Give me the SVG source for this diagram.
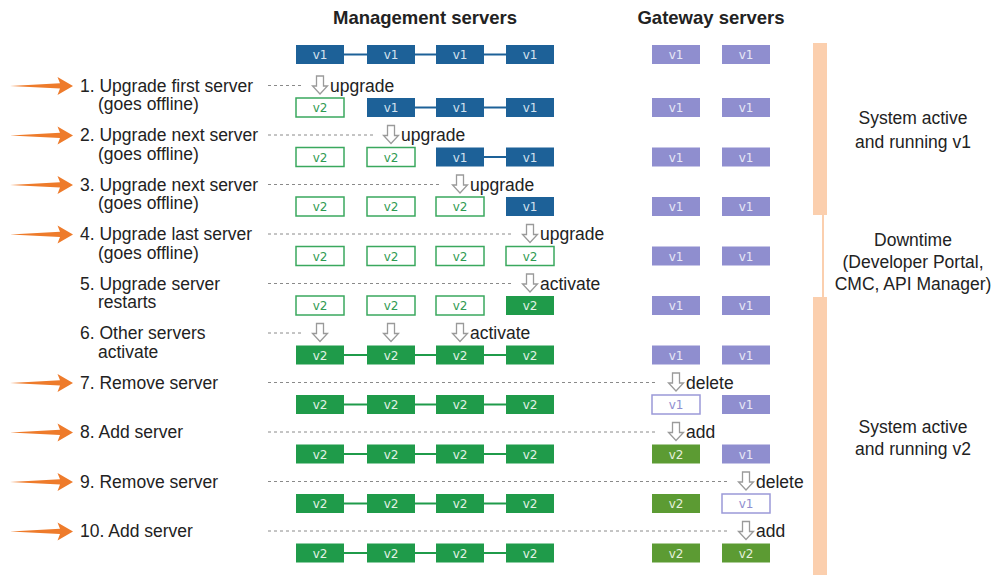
<svg xmlns="http://www.w3.org/2000/svg" xmlns:xlink="http://www.w3.org/1999/xlink" width="992" height="575" viewBox="0 0 992 575">
  <style>
    text { font-family: "Liberation Sans", Arial, sans-serif; fill: #222; }
    .hdr { font-size: 18.5px; font-weight: bold; text-anchor: middle; }
    .lbl { font-size: 17.5px; }
    .act { font-size: 17.5px; }
    .side { font-size: 17.5px; text-anchor: middle; }
    .bx text { font-family: "DejaVu Sans", Verdana, sans-serif; font-size: 12px; text-anchor: middle; }
    .b1 use { fill: #1d6198; }
    .b1 text { fill: #d6e3ef; }
    .g2 use { fill: #1f9b4a; }
    .g2 text { fill: #e2f2e6; }
    .o2 use { fill: #fff; stroke: #3aa85e; stroke-width: 1.5; }
    .o2 text { fill: #2f9a52; }
    .p1 use { fill: #8f8ecf; }
    .p1 text { fill: #e8e8f6; }
    .q1 use { fill: #fff; stroke: #9b99d8; stroke-width: 1.5; }
    .q1 text { fill: #8f8ecf; }
    .k2 use { fill: #5c9b33; }
    .k2 text { fill: #e6f0df; }
    .dash { stroke: #8a8a8a; stroke-width: 1; stroke-dasharray: 3 3; fill: none; }
    .lnB { stroke: #1d6198; stroke-width: 2; }
    .lnG { stroke: #1f9b4a; stroke-width: 2; }
    .bar { fill: #fbcfae; }
  </style>
  <defs>
    <!-- hollow down arrow, centred on its own origin -->
    <polygon id="down" points="-3.5,-9 3.5,-9 3.5,1 7.5,1 0,9 -7.5,1 -3.5,1" fill="#fff" stroke="#9a9a9a" stroke-width="1.3" stroke-linejoin="miter"/>
    <!-- orange pointer in front of a step -->
    <polygon id="ptr" points="10,0.6 60,-2.2 57.5,-8.5 73,0.5 57.5,9.5 60,3 " fill="#ee7b2b"/>
    <!-- server box; fill and stroke come from the state class -->
    <rect id="box" x="0" y="0" width="48" height="19"/>
  </defs>

  <!-- column headings -->
  <text class="hdr" x="425" y="24">Management servers</text>
  <text class="hdr" x="711" y="24">Gateway servers</text>

  <!-- status bar on the right -->
  <g id="status-bar">
    <rect class="bar" x="813" y="43" width="14" height="172"/>
    <rect class="bar" x="822" y="215" width="2" height="82"/>
    <rect class="bar" x="813" y="297" width="14" height="278"/>
  </g>
  <g id="phase-v1">
    <text class="side" x="913" y="124">System active</text>
    <text class="side" x="913" y="148">and running v1</text>
  </g>
  <g id="phase-downtime">
    <text class="side" x="913" y="246">Downtime</text>
    <text class="side" x="913" y="268">(Developer Portal,</text>
    <text class="side" x="913" y="290">CMC, API Manager)</text>
  </g>
  <g id="phase-v2">
    <text class="side" x="913" y="433">System active</text>
    <text class="side" x="913" y="455">and running v2</text>
  </g>

  <!-- links between active management servers -->
  <g id="connectors">
    <line class="lnB" x1="344" y1="54.5" x2="367" y2="54.5"/>
    <line class="lnB" x1="415" y1="54.5" x2="436" y2="54.5"/>
    <line class="lnB" x1="484" y1="54.5" x2="506" y2="54.5"/>
    <line class="lnB" x1="415" y1="107.5" x2="436" y2="107.5"/>
    <line class="lnB" x1="484" y1="107.5" x2="506" y2="107.5"/>
    <line class="lnB" x1="484" y1="157" x2="506" y2="157"/>
    <line class="lnG" x1="344" y1="355" x2="367" y2="355"/>
    <line class="lnG" x1="415" y1="355" x2="436" y2="355"/>
    <line class="lnG" x1="484" y1="355" x2="506" y2="355"/>
    <line class="lnG" x1="344" y1="404.5" x2="367" y2="404.5"/>
    <line class="lnG" x1="415" y1="404.5" x2="436" y2="404.5"/>
    <line class="lnG" x1="484" y1="404.5" x2="506" y2="404.5"/>
    <line class="lnG" x1="344" y1="454" x2="367" y2="454"/>
    <line class="lnG" x1="415" y1="454" x2="436" y2="454"/>
    <line class="lnG" x1="484" y1="454" x2="506" y2="454"/>
    <line class="lnG" x1="344" y1="503.5" x2="367" y2="503.5"/>
    <line class="lnG" x1="415" y1="503.5" x2="436" y2="503.5"/>
    <line class="lnG" x1="484" y1="503.5" x2="506" y2="503.5"/>
    <line class="lnG" x1="344" y1="553" x2="367" y2="553"/>
    <line class="lnG" x1="415" y1="553" x2="436" y2="553"/>
    <line class="lnG" x1="484" y1="553" x2="506" y2="553"/>
  </g>

  <!-- state 0 -->
  <g id="state-0" class="bx" transform="translate(0,45)">
    <g class="b1" transform="translate(296,0)"><use xlink:href="#box"/><text x="24" y="14">v1</text></g>
    <g class="b1" transform="translate(367,0)"><use xlink:href="#box"/><text x="24" y="14">v1</text></g>
    <g class="b1" transform="translate(436,0)"><use xlink:href="#box"/><text x="24" y="14">v1</text></g>
    <g class="b1" transform="translate(506,0)"><use xlink:href="#box"/><text x="24" y="14">v1</text></g>
    <g class="p1" transform="translate(652,0)"><use xlink:href="#box"/><text x="24" y="14">v1</text></g>
    <g class="p1" transform="translate(722,0)"><use xlink:href="#box"/><text x="24" y="14">v1</text></g>
  </g>

  <!-- step 1 -->
  <g id="step-1">
    <use xlink:href="#ptr" transform="translate(0,85.5)"/>
    <text class="lbl" x="80" y="91.5">1. Upgrade first server</text>
    <text class="lbl" x="98" y="110">(goes offline)</text>
    <line class="dash" x1="268" y1="85.5" x2="302" y2="85.5"/>
    <use xlink:href="#down" transform="translate(320,85)"/>
    <text class="act" x="330" y="91.5">upgrade</text>
  </g>
  <g id="state-1" class="bx" transform="translate(0,98)">
    <g class="o2" transform="translate(296,0)"><use xlink:href="#box"/><text x="24" y="14">v2</text></g>
    <g class="b1" transform="translate(367,0)"><use xlink:href="#box"/><text x="24" y="14">v1</text></g>
    <g class="b1" transform="translate(436,0)"><use xlink:href="#box"/><text x="24" y="14">v1</text></g>
    <g class="b1" transform="translate(506,0)"><use xlink:href="#box"/><text x="24" y="14">v1</text></g>
    <g class="p1" transform="translate(652,0)"><use xlink:href="#box"/><text x="24" y="14">v1</text></g>
    <g class="p1" transform="translate(722,0)"><use xlink:href="#box"/><text x="24" y="14">v1</text></g>
  </g>

  <!-- step 2 -->
  <g id="step-2">
    <use xlink:href="#ptr" transform="translate(0,135)"/>
    <text class="lbl" x="80" y="141">2. Upgrade next server</text>
    <text class="lbl" x="98" y="159.5">(goes offline)</text>
    <line class="dash" x1="268" y1="135" x2="373" y2="135"/>
    <use xlink:href="#down" transform="translate(391,134.5)"/>
    <text class="act" x="401" y="141">upgrade</text>
  </g>
  <g id="state-2" class="bx" transform="translate(0,147.5)">
    <g class="o2" transform="translate(296,0)"><use xlink:href="#box"/><text x="24" y="14">v2</text></g>
    <g class="o2" transform="translate(367,0)"><use xlink:href="#box"/><text x="24" y="14">v2</text></g>
    <g class="b1" transform="translate(436,0)"><use xlink:href="#box"/><text x="24" y="14">v1</text></g>
    <g class="b1" transform="translate(506,0)"><use xlink:href="#box"/><text x="24" y="14">v1</text></g>
    <g class="p1" transform="translate(652,0)"><use xlink:href="#box"/><text x="24" y="14">v1</text></g>
    <g class="p1" transform="translate(722,0)"><use xlink:href="#box"/><text x="24" y="14">v1</text></g>
  </g>

  <!-- step 3 -->
  <g id="step-3">
    <use xlink:href="#ptr" transform="translate(0,184.5)"/>
    <text class="lbl" x="80" y="190.5">3. Upgrade next server</text>
    <text class="lbl" x="98" y="209">(goes offline)</text>
    <line class="dash" x1="268" y1="184.5" x2="442" y2="184.5"/>
    <use xlink:href="#down" transform="translate(460,184)"/>
    <text class="act" x="470" y="190.5">upgrade</text>
  </g>
  <g id="state-3" class="bx" transform="translate(0,197)">
    <g class="o2" transform="translate(296,0)"><use xlink:href="#box"/><text x="24" y="14">v2</text></g>
    <g class="o2" transform="translate(367,0)"><use xlink:href="#box"/><text x="24" y="14">v2</text></g>
    <g class="o2" transform="translate(436,0)"><use xlink:href="#box"/><text x="24" y="14">v2</text></g>
    <g class="b1" transform="translate(506,0)"><use xlink:href="#box"/><text x="24" y="14">v1</text></g>
    <g class="p1" transform="translate(652,0)"><use xlink:href="#box"/><text x="24" y="14">v1</text></g>
    <g class="p1" transform="translate(722,0)"><use xlink:href="#box"/><text x="24" y="14">v1</text></g>
  </g>

  <!-- step 4 -->
  <g id="step-4">
    <use xlink:href="#ptr" transform="translate(0,234)"/>
    <text class="lbl" x="80" y="240">4. Upgrade last server</text>
    <text class="lbl" x="98" y="258.5">(goes offline)</text>
    <line class="dash" x1="268" y1="234" x2="512" y2="234"/>
    <use xlink:href="#down" transform="translate(530,233.5)"/>
    <text class="act" x="540" y="240">upgrade</text>
  </g>
  <g id="state-4" class="bx" transform="translate(0,246.5)">
    <g class="o2" transform="translate(296,0)"><use xlink:href="#box"/><text x="24" y="14">v2</text></g>
    <g class="o2" transform="translate(367,0)"><use xlink:href="#box"/><text x="24" y="14">v2</text></g>
    <g class="o2" transform="translate(436,0)"><use xlink:href="#box"/><text x="24" y="14">v2</text></g>
    <g class="o2" transform="translate(506,0)"><use xlink:href="#box"/><text x="24" y="14">v2</text></g>
    <g class="p1" transform="translate(652,0)"><use xlink:href="#box"/><text x="24" y="14">v1</text></g>
    <g class="p1" transform="translate(722,0)"><use xlink:href="#box"/><text x="24" y="14">v1</text></g>
  </g>

  <!-- step 5 -->
  <g id="step-5">
    <text class="lbl" x="80" y="289.5">5. Upgrade server</text>
    <text class="lbl" x="98" y="308">restarts</text>
    <line class="dash" x1="268" y1="283.5" x2="512" y2="283.5"/>
    <use xlink:href="#down" transform="translate(530,283)"/>
    <text class="act" x="540" y="289.5">activate</text>
  </g>
  <g id="state-5" class="bx" transform="translate(0,296)">
    <g class="o2" transform="translate(296,0)"><use xlink:href="#box"/><text x="24" y="14">v2</text></g>
    <g class="o2" transform="translate(367,0)"><use xlink:href="#box"/><text x="24" y="14">v2</text></g>
    <g class="o2" transform="translate(436,0)"><use xlink:href="#box"/><text x="24" y="14">v2</text></g>
    <g class="g2" transform="translate(506,0)"><use xlink:href="#box"/><text x="24" y="14">v2</text></g>
    <g class="p1" transform="translate(652,0)"><use xlink:href="#box"/><text x="24" y="14">v1</text></g>
    <g class="p1" transform="translate(722,0)"><use xlink:href="#box"/><text x="24" y="14">v1</text></g>
  </g>

  <!-- step 6 -->
  <g id="step-6">
    <text class="lbl" x="80" y="339">6. Other servers</text>
    <text class="lbl" x="98" y="357.5">activate</text>
    <line class="dash" x1="268" y1="333" x2="302" y2="333"/>
    <use xlink:href="#down" transform="translate(320,332.5)"/>
    <use xlink:href="#down" transform="translate(391,332.5)"/>
    <use xlink:href="#down" transform="translate(460,332.5)"/>
    <text class="act" x="470" y="339">activate</text>
  </g>
  <g id="state-6" class="bx" transform="translate(0,345.5)">
    <g class="g2" transform="translate(296,0)"><use xlink:href="#box"/><text x="24" y="14">v2</text></g>
    <g class="g2" transform="translate(367,0)"><use xlink:href="#box"/><text x="24" y="14">v2</text></g>
    <g class="g2" transform="translate(436,0)"><use xlink:href="#box"/><text x="24" y="14">v2</text></g>
    <g class="g2" transform="translate(506,0)"><use xlink:href="#box"/><text x="24" y="14">v2</text></g>
    <g class="p1" transform="translate(652,0)"><use xlink:href="#box"/><text x="24" y="14">v1</text></g>
    <g class="p1" transform="translate(722,0)"><use xlink:href="#box"/><text x="24" y="14">v1</text></g>
  </g>

  <!-- step 7 -->
  <g id="step-7">
    <use xlink:href="#ptr" transform="translate(0,382.5)"/>
    <text class="lbl" x="80" y="388.5">7. Remove server</text>
    <line class="dash" x1="268" y1="382.5" x2="658" y2="382.5"/>
    <use xlink:href="#down" transform="translate(676,382)"/>
    <text class="act" x="686" y="388.5">delete</text>
  </g>
  <g id="state-7" class="bx" transform="translate(0,395)">
    <g class="g2" transform="translate(296,0)"><use xlink:href="#box"/><text x="24" y="14">v2</text></g>
    <g class="g2" transform="translate(367,0)"><use xlink:href="#box"/><text x="24" y="14">v2</text></g>
    <g class="g2" transform="translate(436,0)"><use xlink:href="#box"/><text x="24" y="14">v2</text></g>
    <g class="g2" transform="translate(506,0)"><use xlink:href="#box"/><text x="24" y="14">v2</text></g>
    <g class="q1" transform="translate(652,0)"><use xlink:href="#box"/><text x="24" y="14">v1</text></g>
    <g class="p1" transform="translate(722,0)"><use xlink:href="#box"/><text x="24" y="14">v1</text></g>
  </g>

  <!-- step 8 -->
  <g id="step-8">
    <use xlink:href="#ptr" transform="translate(0,432)"/>
    <text class="lbl" x="80" y="438">8. Add server</text>
    <line class="dash" x1="268" y1="432" x2="658" y2="432"/>
    <use xlink:href="#down" transform="translate(676,431.5)"/>
    <text class="act" x="686" y="438">add</text>
  </g>
  <g id="state-8" class="bx" transform="translate(0,444.5)">
    <g class="g2" transform="translate(296,0)"><use xlink:href="#box"/><text x="24" y="14">v2</text></g>
    <g class="g2" transform="translate(367,0)"><use xlink:href="#box"/><text x="24" y="14">v2</text></g>
    <g class="g2" transform="translate(436,0)"><use xlink:href="#box"/><text x="24" y="14">v2</text></g>
    <g class="g2" transform="translate(506,0)"><use xlink:href="#box"/><text x="24" y="14">v2</text></g>
    <g class="k2" transform="translate(652,0)"><use xlink:href="#box"/><text x="24" y="14">v2</text></g>
    <g class="p1" transform="translate(722,0)"><use xlink:href="#box"/><text x="24" y="14">v1</text></g>
  </g>

  <!-- step 9 -->
  <g id="step-9">
    <use xlink:href="#ptr" transform="translate(0,481.5)"/>
    <text class="lbl" x="80" y="487.5">9. Remove server</text>
    <line class="dash" x1="268" y1="481.5" x2="728" y2="481.5"/>
    <use xlink:href="#down" transform="translate(746,481)"/>
    <text class="act" x="756" y="487.5">delete</text>
  </g>
  <g id="state-9" class="bx" transform="translate(0,494)">
    <g class="g2" transform="translate(296,0)"><use xlink:href="#box"/><text x="24" y="14">v2</text></g>
    <g class="g2" transform="translate(367,0)"><use xlink:href="#box"/><text x="24" y="14">v2</text></g>
    <g class="g2" transform="translate(436,0)"><use xlink:href="#box"/><text x="24" y="14">v2</text></g>
    <g class="g2" transform="translate(506,0)"><use xlink:href="#box"/><text x="24" y="14">v2</text></g>
    <g class="k2" transform="translate(652,0)"><use xlink:href="#box"/><text x="24" y="14">v2</text></g>
    <g class="q1" transform="translate(722,0)"><use xlink:href="#box"/><text x="24" y="14">v1</text></g>
  </g>

  <!-- step 10 -->
  <g id="step-10">
    <use xlink:href="#ptr" transform="translate(0,531)"/>
    <text class="lbl" x="80" y="537">10. Add server</text>
    <line class="dash" x1="268" y1="531" x2="728" y2="531"/>
    <use xlink:href="#down" transform="translate(746,530.5)"/>
    <text class="act" x="756" y="537">add</text>
  </g>
  <g id="state-10" class="bx" transform="translate(0,543.5)">
    <g class="g2" transform="translate(296,0)"><use xlink:href="#box"/><text x="24" y="14">v2</text></g>
    <g class="g2" transform="translate(367,0)"><use xlink:href="#box"/><text x="24" y="14">v2</text></g>
    <g class="g2" transform="translate(436,0)"><use xlink:href="#box"/><text x="24" y="14">v2</text></g>
    <g class="g2" transform="translate(506,0)"><use xlink:href="#box"/><text x="24" y="14">v2</text></g>
    <g class="k2" transform="translate(652,0)"><use xlink:href="#box"/><text x="24" y="14">v2</text></g>
    <g class="k2" transform="translate(722,0)"><use xlink:href="#box"/><text x="24" y="14">v2</text></g>
  </g>
</svg>
